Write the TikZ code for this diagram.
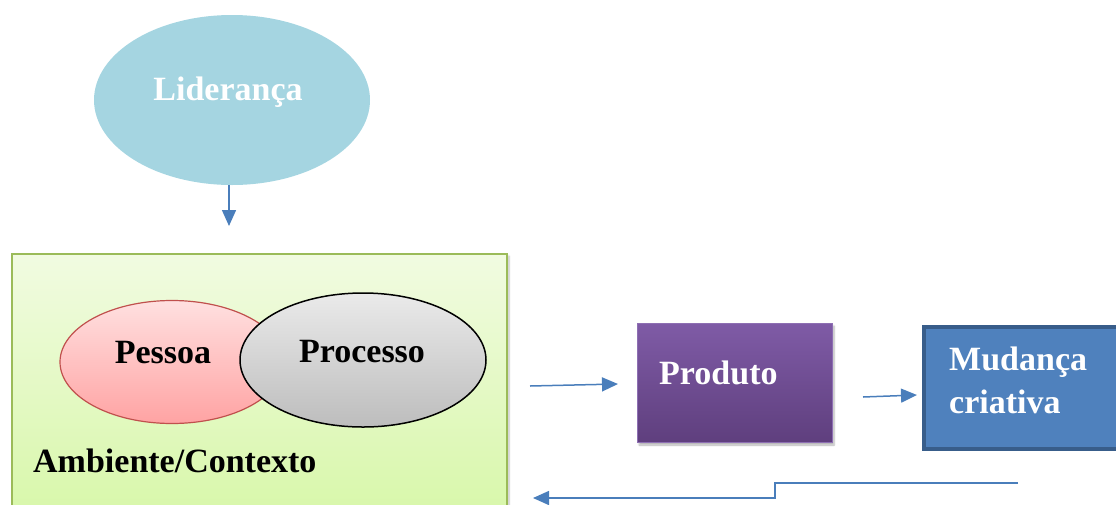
\documentclass[tikz,border=0pt]{standalone}
\usepackage{fontspec}
\setmainfont{Liberation Serif}
\usetikzlibrary{arrows.meta,shapes.geometric,shadows.blur}

\definecolor{flowblue}{HTML}{4A7EBB}
\definecolor{leadfill}{HTML}{A5D5E1}
\definecolor{ctxtop}{HTML}{F1FBE1}
\definecolor{ctxbot}{HTML}{D6F7A6}
\definecolor{ctxedge}{HTML}{9BBB59}
\definecolor{pinktop}{HTML}{FFE0E0}
\definecolor{pinkbot}{HTML}{FFA3A3}
\definecolor{pinkedge}{HTML}{C0504D}
\definecolor{greytop}{HTML}{EAEAEA}
\definecolor{greybot}{HTML}{BDBDBD}
\definecolor{prodtop}{HTML}{7F5BA6}
\definecolor{prodbot}{HTML}{5F3F7E}
\definecolor{prodedge}{HTML}{8E6FB3}
\definecolor{changefill}{HTML}{4F81BD}
\definecolor{changeedge}{HTML}{385D8A}

\tikzset{
  lbl/.style={font=\fontsize{34}{45}\selectfont\bfseries, inner sep=0pt},
  flow/.style={draw=flowblue, line width=1.5pt, -{Triangle[length=16pt,width=14pt]}},
}

\begin{document}
\begin{tikzpicture}[x=1pt,y=-1pt]
\useasboundingbox (0,0) rectangle (1116,504);
\clip (0,0) rectangle (1116,504);

% leadership ellipse
\node[ellipse, fill=leadfill, minimum width=276pt, minimum height=170pt, inner sep=0pt] (lead) at (232,100) {};
\node[lbl, text=white, anchor=base] (leadtxt) at (228,100) {Liderança};

% context box
\node[rectangle, draw=ctxedge, line width=1.2pt, top color=ctxtop, bottom color=ctxbot,
      minimum width=495pt, minimum height=280pt, inner sep=0pt,
      blur shadow={shadow xshift=2pt, shadow yshift=-2pt, shadow blur steps=6, shadow opacity=25}] (ctx) at (259.5,394) {};

% person and process ellipses
\node[ellipse, draw=pinkedge, line width=1.2pt, top color=pinktop, bottom color=pinkbot,
      minimum width=224pt, minimum height=123pt, inner sep=0pt] (pess) at (172,362) {};
\node[ellipse, draw=black, line width=1.5pt, top color=greytop, bottom color=greybot,
      minimum width=246pt, minimum height=134pt, inner sep=0pt] (proc) at (363,360) {};
\node[lbl, anchor=base] (pesstxt) at (163,363) {Pessoa};
\node[lbl, anchor=base] (proctxt) at (362,362) {Processo};
\node[lbl, anchor=base west] (ctxtxt) at (33,472) {Ambiente/Contexto};

% product box
\node[rectangle, draw=prodedge, line width=1pt, top color=prodtop, bottom color=prodbot,
      minimum width=195pt, minimum height=119pt, inner sep=0pt,
      blur shadow={shadow xshift=2pt, shadow yshift=-3pt, shadow blur steps=6, shadow opacity=30}] (prod) at (734.5,382.5) {};
\node[lbl, text=white, anchor=base west] (prodtxt) at (659,384) {Produto};

% creative change box
\node[rectangle, draw=changeedge, line width=3.5pt, fill=changefill,
      minimum width=210pt, minimum height=122pt, inner sep=0pt] (chg) at (1029,388) {};
\node[lbl, text=white, anchor=base west] (chgtxtA) at (949,370) {Mudança};
\node[lbl, text=white, anchor=base west] (chgtxtB) at (949,413) {criativa};

% connectors
\coordinate (leadOut) at (229,185);
\coordinate (ctxIn) at (229,226);
\coordinate (inA) at (530,386);
\coordinate (prodIn) at (618,384);
\coordinate (outA) at (863,397);
\coordinate (chgIn) at (917,395);
\coordinate (fbStart) at (1018,483);
\coordinate (fbEnd) at (533,498);
\draw[flow] (leadOut) -- (ctxIn);
\draw[flow] (inA) -- (prodIn);
\draw[flow] (outA) -- (chgIn);
\draw[flow] (fbStart) -- (775,483) -- (775,498) -- (fbEnd);
\end{tikzpicture}
\end{document}
